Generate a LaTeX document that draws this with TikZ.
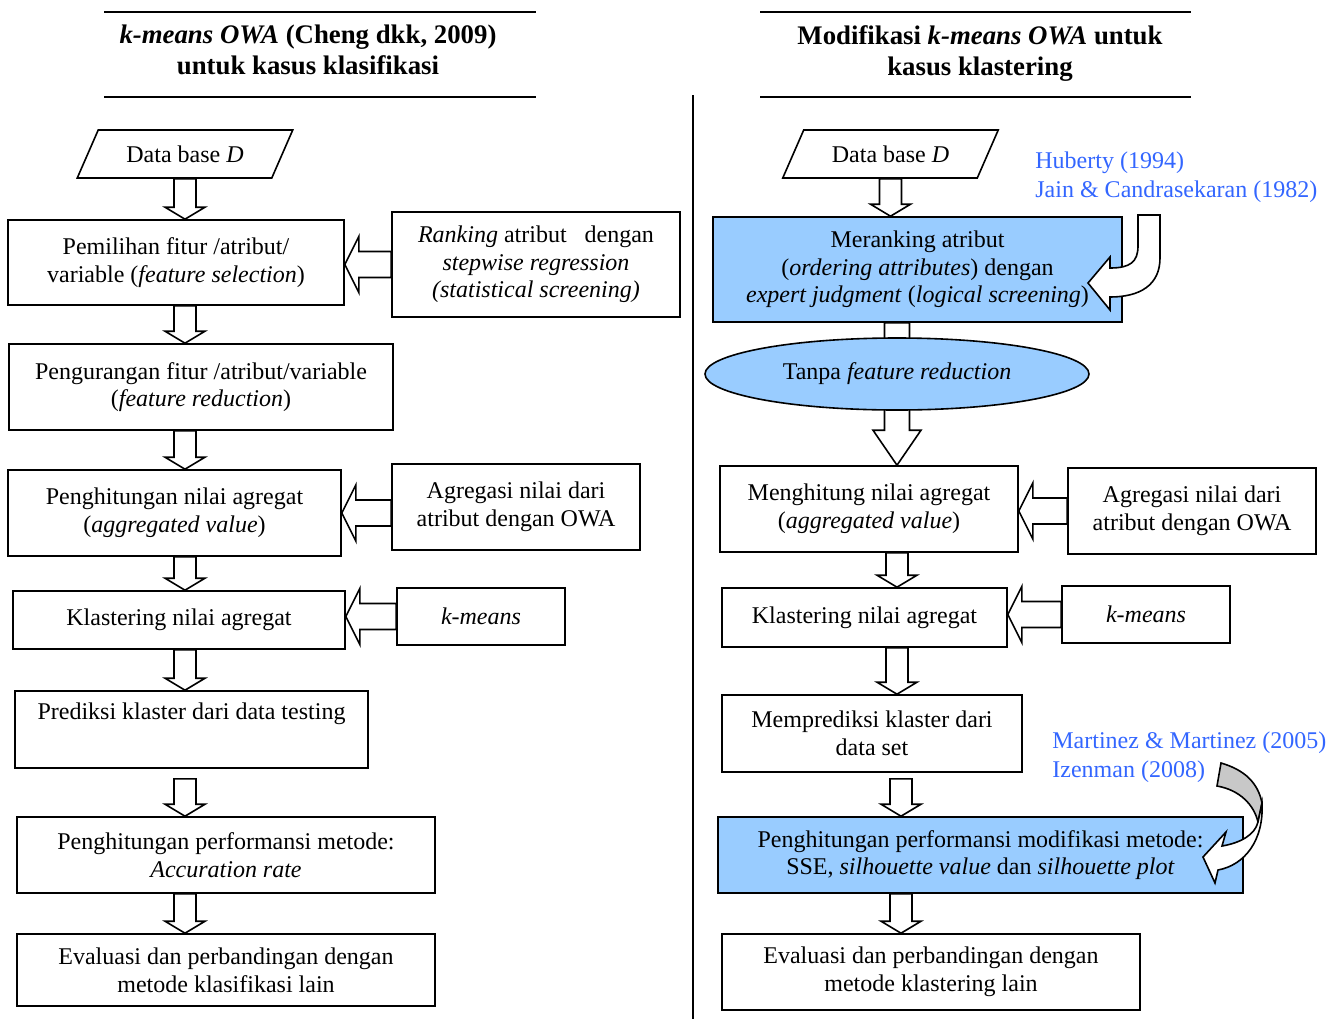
\documentclass[tikz,border=0pt]{standalone}
\usepackage{fontspec}
\setmainfont{Liberation Serif}
\usetikzlibrary{calc,shapes.geometric}
\definecolor{boxblue}{HTML}{99CCFF}
\definecolor{citeblue}{HTML}{3366FF}
\definecolor{backgray}{HTML}{C8C8C8}
\tikzset{
  box/.style={draw, line width=0.8pt, align=center, inner sep=0pt},
  bluebox/.style={box, fill=boxblue},
  dbase/.style={draw, line width=0.8pt, trapezium, trapezium left angle=50,
    trapezium right angle=130, trapezium stretches=true,
    minimum width=108pt, minimum height=24pt, inner sep=0pt},
  cite/.style={text=citeblue, align=left, anchor=west, inner sep=0pt,
    font=\fontsize{12}{14.5}\selectfont},
  title/.style={align=center, font=\fontsize{13.4}{15.5}\selectfont\bfseries},
  fatw/.store in=\fatw, fath/.store in=\fath, fatl/.store in=\fatl,
  fatw=5.5pt, fath=10pt, fatl=6pt,
  fatarrow/.style={draw, fill=white, line width=0.8pt,
    to path={let \p1=(\tikztostart), \p2=(\tikztotarget),
      \n1={atan2(\y2-\y1,\x2-\x1)} in
      ($(\p1)+(\n1+90:\fatw)$) -- ($(\p2)+(\n1+180:\fatl)+(\n1+90:\fatw)$)
      -- ($(\p2)+(\n1+180:\fatl)+(\n1+90:\fath)$) -- (\p2)
      -- ($(\p2)+(\n1+180:\fatl)+(\n1-90:\fath)$)
      -- ($(\p2)+(\n1+180:\fatl)+(\n1-90:\fatw)$)
      -- ($(\p1)+(\n1-90:\fatw)$) -- cycle}},
  sidearrow/.style={fatarrow, fatw=6.5pt, fath=14pt, fatl=7pt},
}
\begin{document}
\begin{tikzpicture}[x=0.5pt, y=-0.5pt, font=\fontsize{12}{13.8}\selectfont]
  \useasboundingbox (0,0) rectangle (1340,1019);
  % judul
  \node[title] (t1) at (308,50) {\textit{k-means OWA} (Cheng dkk, 2009)\\ untuk kasus klasifikasi};
  \node[title] (t2) at (980,54) {Modifikasi \textit{k-means OWA} untuk\\ kasus klastering};
  \draw[line width=1.2pt] (104,12) -- (536,12) (104,97) -- (536,97);
  \draw[line width=1.2pt] (760,12) -- (1191,12) (760,97) -- (1191,97);
  \draw[line width=0.8pt] (693,95) -- (693,1019);
  % kiri
  \node[dbase] (db1) at (185,154) {Data base \emph{D}};
  \node[box, minimum width=168pt, minimum height=42.5pt] (sel) at (176,262.5)
    {Pemilihan fitur /atribut/\\ variable (\emph{feature selection})};
  \node[box, minimum width=144pt, minimum height=52.5pt] (rank) at (536,264.5)
    {\emph{Ranking} atribut~~ dengan\\ \emph{stepwise regression}\\ \emph{(statistical screening)}};
  \node[box, minimum width=192pt, minimum height=43pt] (red) at (201,387)
    {Pengurangan fitur /atribut/variable\\ (\emph{feature reduction})};
  \node[box, minimum width=166.5pt, minimum height=43pt] (agg) at (174.5,513)
    {Penghitungan nilai agregat\\ (\emph{aggregated value})};
  \node[box, minimum width=124pt, minimum height=43pt] (owa) at (516,507)
    {Agregasi nilai dari\\ atribut dengan OWA};
  \node[box, minimum width=166pt, minimum height=29pt] (kl) at (179,620) {Klastering nilai agregat};
  \node[box, minimum width=84pt, minimum height=28.5pt] (km) at (481,616.5) {\emph{k-means}};
  \node[box, minimum width=176.5pt, minimum height=38.5pt] (pred) at (191.5,729.5)
    {Prediksi klaster dari data testing\\ \strut};
  \node[box, minimum width=209pt, minimum height=38pt] (perf) at (226,855)
    {Penghitungan performansi metode:\\ \emph{Accuration rate}};
  \node[box, minimum width=209pt, minimum height=36pt] (eval) at (226,970)
    {Evaluasi dan perbandingan dengan\\ metode klasifikasi lain};
  \draw[fatarrow] (db1.south) to (sel.north -| db1.south);
  \draw[fatarrow] (sel.south -| db1.south) to (red.north -| db1.south);
  \draw[fatarrow] (red.south -| db1.south) to (agg.north -| db1.south);
  \draw[fatarrow] (agg.south -| db1.south) to (kl.north -| db1.south);
  \draw[fatarrow] (kl.south -| db1.south) to (pred.north -| db1.south);
  \draw[fatarrow] ($(pred.south -| db1.south)+(0,10)$) to (perf.north -| db1.south);
  \draw[fatarrow] (perf.south -| db1.south) to (eval.north -| db1.south);
  \draw[sidearrow] (rank.west) to (sel.east |- rank.west);
  \draw[sidearrow] (owa.west |- agg.east) to (agg.east);
  \draw[sidearrow] (km.west) to (kl.east |- km.west);
  % kanan
  \coordinate (mid) at (897,374);
  \node[dbase] (db2) at (890.5,154) {Data base \emph{D}};
  \node[bluebox, minimum width=204.5pt, minimum height=52.5pt] (rnk) at (917.5,269.5)
    {Meranking atribut\\ (\emph{ordering attributes}) dengan\\ \emph{expert judgment} (\emph{logical screening})};
  \node[box, minimum width=149pt, minimum height=43pt] (agg2) at (869,509)
    {Menghitung nilai agregat\\ (\emph{aggregated value})};
  \node[box, minimum width=124pt, minimum height=43pt] (owa2) at (1192,511)
    {Agregasi nilai dari\\ atribut dengan OWA};
  \node[box, minimum width=142.5pt, minimum height=29.5pt] (kl2) at (864.5,617.5) {Klastering nilai agregat};
  \node[box, minimum width=84pt, minimum height=28.5pt] (km2) at (1146,614.5) {\emph{k-means}};
  \node[box, minimum width=150pt, minimum height=38.5pt] (pred2) at (872,733.5)
    {Memprediksi klaster dari\\ data set};
  \node[bluebox, minimum width=262.5pt, minimum height=38pt] (perf2) at (980.5,855)
    {Penghitungan performansi modifikasi metode:\\ SSE, \emph{silhouette value} dan \emph{silhouette plot}};
  \node[box, minimum width=209pt, minimum height=38pt] (eval2) at (931,972)
    {Evaluasi dan perbandingan dengan\\ metode klastering lain};
  \draw[fatarrow] (db2.south) to (rnk.north -| db2.south);
  \draw[fatarrow, fatw=6.25pt, fath=12pt, fatl=17.5pt] (rnk.south -| mid) to (agg2.north -| mid);
  \node[draw, line width=0.8pt, ellipse, fill=boxblue, minimum width=192pt, minimum height=36pt,
    inner sep=0pt] (ell) at (mid) {Tanpa \emph{feature reduction}};
  \draw[fatarrow] (agg2.south -| mid) to (kl2.north -| mid);
  \draw[fatarrow] (kl2.south -| mid) to (pred2.north -| mid);
  \draw[fatarrow] ($(pred2.south -| mid)+(4,6)$) to ($(perf2.north -| mid)+(4,0)$);
  \draw[fatarrow] ($(perf2.south -| mid)+(4,0)$) to ($(eval2.north -| mid)+(4,0)$);
  \draw[sidearrow] (owa2.west) to (agg2.east |- owa2.west);
  \draw[sidearrow] (km2.west) to (kl2.east |- km2.west);
  \node[cite] (c1) at (1035,177) {Huberty (1994)\\ Jain \& Candrasekaran (1982)};
  \node[cite] (c2) at (1052,757) {Martinez \& Martinez (2005)\\ Izenman (2008)};
  \draw[line width=0.8pt, fill=white] (1138,215) -- (1160,215) -- (1160,258)
    .. controls (1160,285) and (1140,297) .. (1110,297) -- (1110,310) -- (1088,283)
    -- (1110,257) -- (1110,268) .. controls (1130,268) and (1138,262) .. (1138,246) -- cycle;
  \draw[line width=0.8pt, fill=backgray] (1221,763) -- (1217,786)
    .. controls (1240,790) and (1254,805) .. (1258,822) -- (1262,803)
    .. controls (1258,783) and (1245,770) .. (1221,763) -- cycle;
  \draw[line width=0.8pt, fill=white] (1262,803) .. controls (1264,840) and (1245,865) .. (1218,870)
    -- (1215,883) -- (1203,857) -- (1226,832) -- (1222,846)
    .. controls (1240,843) and (1255,835) .. (1258,822) -- cycle;
\end{tikzpicture}
\end{document}
